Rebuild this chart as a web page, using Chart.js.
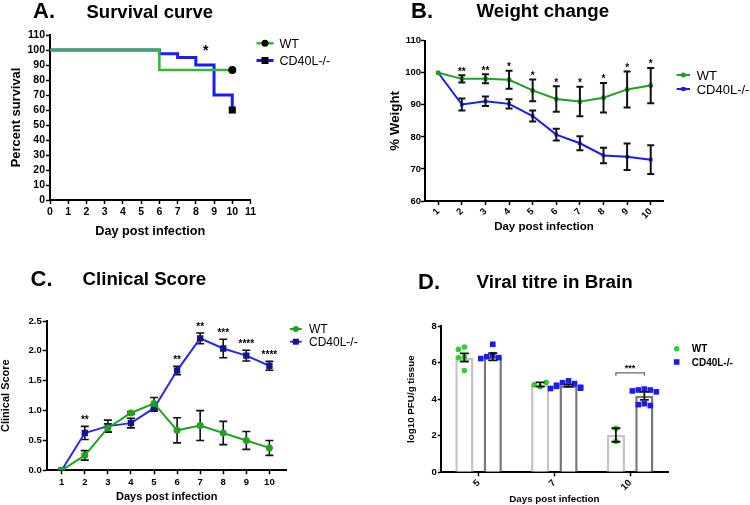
<!DOCTYPE html>
<html><head><meta charset="utf-8">
<script src="https://cdn.jsdelivr.net/npm/chart.js@4.4.1/dist/chart.umd.min.js"></script>
<style>
html,body{margin:0;padding:0;background:#fff;}
#wrap{position:relative;width:750px;height:505px;overflow:hidden;font-family:'Liberation Sans',Arial,sans-serif;}
canvas{position:absolute;}
.t{position:absolute;font-weight:bold;line-height:1;white-space:nowrap;color:#000;}
</style></head><body>
<div id="wrap">
<canvas id="cA" width="375" height="250" style="left:0;top:0"></canvas>
<canvas id="cB" width="375" height="250" style="left:375px;top:0"></canvas>
<canvas id="cC" width="375" height="255" style="left:0;top:250px"></canvas>
<canvas id="cD" width="375" height="255" style="left:375px;top:250px"></canvas>
</div>
<script>
// ---------------- DATA ----------------
const seriesNames = ['WT', 'CD40L-/-'];
const panelLetters = ['A.', 'B.', 'C.', 'D.'];
const panelTitles = ['Survival curve', 'Weight change', 'Clinical Score', 'Viral titre in Brain'];

// A. Survival curve (Kaplan-Meier steps)
const survDaysWT = [0, 6, 10];
const survWT = [100, 86.7, 86.7];
const survDaysKO = [0, 6, 7, 8, 9, 10];
const survKO = [100, 97.5, 95, 90, 70, 60];
const survTicksX = [0, 1, 2, 3, 4, 5, 6, 7, 8, 9, 10, 11];
const survTicksY = [0, 10, 20, 30, 40, 50, 60, 70, 80, 90, 100, 110];
const survSigDay = 8.55, survSigLevel = 101, survSigLabel = '*';

// B. Weight change
const weightDays = [1, 2, 3, 4, 5, 6, 7, 8, 9, 10];
const weightWT = [100, 98.1, 98.1, 97.8, 94.5, 91.8, 91.0, 92.2, 94.8, 96.0];
const weightWTerr = [0, 1.1, 1.4, 2.8, 3.4, 4.0, 4.6, 4.6, 5.6, 5.5];
const weightKO = [100, 90.1, 91.1, 90.3, 86.5, 80.7, 78.0, 74.2, 73.8, 72.9];
const weightKOerr = [0, 1.9, 1.5, 1.45, 1.7, 1.8, 2.2, 2.4, 4.1, 4.5];
const weightSig = ['', '**', '**', '*', '*', '*', '*', '*', '*', '*'];
const weightTicksY = [60, 70, 80, 90, 100, 110];

// C. Clinical score
const scoreDays = [1, 2, 3, 4, 5, 6, 7, 8, 9, 10];
const scoreWT = [0, 0.25, 0.71, 0.96, 1.12, 0.67, 0.75, 0.625, 0.50, 0.375];
const scoreWTerr = [0, 0.08, 0.07, 0.02, 0.1, 0.21, 0.25, 0.195, 0.15, 0.125];
const scoreKO = [0, 0.625, 0.74, 0.79, 1.04, 1.67, 2.21, 2.04, 1.92, 1.75];
const scoreKOerr = [0, 0.11, 0.1, 0.08, 0.05, 0.07, 0.09, 0.155, 0.09, 0.075];
const scoreSig = ['', '**', '', '', '', '**', '**', '***', '****', '****'];
const scoreTicksY = [0, 0.5, 1.0, 1.5, 2.0, 2.5];

// D. Viral titre in brain
const titreDays = ['5', '7', '10'];
const titreWTmean = [6.28, 4.8, 2.04];
const titreWTsem = [0.22, 0.12, 0.37];
const titreKOmean = [6.32, 4.75, 4.18];
const titreKOsem = [0.2, 0.06, 0.22];
const titreWTpts = [[6.85, 6.72, 6.3, 6.26, 5.57], [4.68, 4.79, 4.92], [2.4, 1.69]];
const titreKOpts = [[7.0, 6.42, 6.32, 6.27, 6.22], [5.0, 4.9, 4.85, 4.76, 4.7, 4.65, 4.6, 4.58], [4.55, 4.5, 4.5, 4.45, 4.4, 3.75, 3.7, 3.65]];
const titreTicksY = [0, 2, 4, 6, 8];
const titreSigGroup = 2, titreSigLevel = 5.44, titreSigLabel = '***';

// ---------------- STYLE / HELPERS ----------------
const FONT = "'Liberation Sans', Arial, Helvetica, sans-serif";
Chart.defaults.font.family = FONT;
Chart.defaults.color = '#000';
Chart.defaults.animation = false;
Chart.defaults.responsive = false;
Chart.defaults.maintainAspectRatio = false;
Chart.defaults.events = [];
Chart.defaults.plugins.legend.display = false;
Chart.defaults.plugins.tooltip.enabled = false;

const wrap = document.getElementById('wrap');
function addText(txt, left, baseline, size) {
  const d = document.createElement('div');
  d.className = 't';
  d.textContent = txt;
  d.style.fontSize = size + 'px';
  d.style.left = left + 'px';
  d.style.top = (baseline - 0.8465 * size) + 'px';
  wrap.appendChild(d);
}
addText(panelLetters[0], 33, 18.5, 22);
addText(panelTitles[0], 86.5, 18.3, 18.5);
addText(panelLetters[1], 411, 18.5, 22);
addText(panelTitles[1], 476.5, 17.8, 18.7);
addText(panelLetters[2], 30.5, 286.7, 22);
addText(panelTitles[2], 82.5, 286.2, 18.7);
addText(panelLetters[3], 418, 290, 22);
addText(panelTitles[3], 476.5, 288.5, 18.8);

function mkAxis(o) {
  const a = {
    type: o.type || 'linear',
    grid: { display: true, drawOnChartArea: false, drawTicks: true, tickLength: o.tickLen ?? 4,
            tickColor: '#000', tickWidth: 1.5, color: '#000', offset: false },
    border: { display: true, color: '#000', width: 2 },
    ticks: { font: { size: o.tickSize, weight: 'bold' }, color: '#000', padding: o.tickPad ?? 2,
             autoSkip: false, maxRotation: o.rot || 0, minRotation: o.rot || 0 },
    title: { display: true, text: o.title, color: '#000', font: { size: o.titleSize, weight: 'bold' },
             padding: o.horizontal ? { top: 0, bottom: o.titlePad } : { top: o.titlePad, bottom: 0 } },
    afterFit: o.horizontal ? (s => { s.height = o.size; }) : (s => { s.width = o.size; })
  };
  if (a.type === 'linear') {
    a.min = o.min; a.max = o.max;
    a.afterBuildTicks = s => { s.ticks = o.tickValues.map(v => ({ value: v })); };
    if (o.fmt) a.ticks.callback = o.fmt;
  }
  return a;
}

function drawMarker(ctx, shape, x, y, r, fill) {
  ctx.save();
  ctx.fillStyle = fill;
  ctx.beginPath();
  if (shape === 'rect') ctx.rect(x - r, y - r, 2 * r, 2 * r);
  else ctx.arc(x, y, r, 0, Math.PI * 2);
  ctx.fill();
  ctx.restore();
}

function drawErrorBars(chart, capHalf, lw) {
  const ctx = chart.ctx, ys = chart.scales.y;
  chart.data.datasets.forEach((ds, di) => {
    if (!ds.errors) return;
    const meta = chart.getDatasetMeta(di);
    meta.data.forEach((el, i) => {
      const e = ds.errors[i];
      if (!e) return;
      const d = ds.data[i];
      const v = typeof d === 'object' ? d.y : d;
      const x = el.x, y1 = ys.getPixelForValue(v + e), y2 = ys.getPixelForValue(v - e);
      ctx.save();
      ctx.strokeStyle = '#111';
      ctx.lineWidth = lw;
      ctx.beginPath();
      ctx.moveTo(x, y1); ctx.lineTo(x, y2);
      ctx.moveTo(x - capHalf, y1); ctx.lineTo(x + capHalf, y1);
      ctx.moveTo(x - capHalf, y2); ctx.lineTo(x + capHalf, y2);
      ctx.stroke();
      ctx.restore();
    });
  });
}

function drawStarText(ctx, text, x, glyphCenterY, size) {
  ctx.save();
  ctx.font = 'bold ' + size + 'px ' + FONT;
  ctx.fillStyle = '#000';
  ctx.textAlign = 'center';
  ctx.textBaseline = 'middle';
  ctx.fillText(text, x, glyphCenterY + 0.22 * size);
  ctx.restore();
}

function drawSigAbove(chart, dsIndex, labels, gapPx, size) {
  const ds = chart.data.datasets[dsIndex];
  const meta = chart.getDatasetMeta(dsIndex);
  const ys = chart.scales.y;
  labels.forEach((t, i) => {
    if (!t) return;
    const d = ds.data[i];
    const v = (typeof d === 'object' ? d.y : d) + (ds.errors ? ds.errors[i] : 0);
    drawStarText(chart.ctx, t, meta.data[i].x, ys.getPixelForValue(v) - gapPx, size);
  });
}

function drawLegend(ctx, items, x0, lineLen, textX, font) {
  items.forEach(it => {
    ctx.save();
    if (it.line) {
      ctx.strokeStyle = it.line;
      ctx.lineWidth = it.lw;
      ctx.beginPath();
      ctx.moveTo(x0, it.y); ctx.lineTo(x0 + lineLen, it.y);
      ctx.stroke();
    }
    drawMarker(ctx, it.shape, x0 + lineLen / 2, it.y, it.r, it.fill);
    ctx.font = font;
    ctx.fillStyle = '#000';
    ctx.textAlign = 'left';
    ctx.textBaseline = 'middle';
    ctx.fillText(it.label, textX, it.y + 1);
    ctx.restore();
  });
}

const toXY = (xs, ys) => xs.map((x, i) => ({ x: x, y: ys[i] }));

// ---------------- A ----------------
const GREEN_A = '#33b633', BLUE_A = '#1a1aff';
new Chart(document.getElementById('cA'), {
  type: 'line',
  data: {
    datasets: [
      { label: seriesNames[0], data: toXY(survDaysWT, survWT), stepped: 'before', borderColor: GREEN_A, borderWidth: 2.5,
        pointStyle: 'circle', pointBackgroundColor: '#000', pointBorderWidth: 0,
        pointRadius: c => c.dataIndex === survWT.length - 1 ? 4 : 0 },
      { label: seriesNames[1], data: toXY(survDaysKO, survKO), stepped: 'before', borderColor: BLUE_A, borderWidth: 3,
        pointStyle: 'rect', pointBackgroundColor: '#000', pointBorderWidth: 0,
        pointRadius: c => c.dataIndex === survKO.length - 1 ? 5 : 0 }
    ]
  },
  options: {
    layout: { padding: { left: 0, top: 35, right: 124.5, bottom: 0 } },
    clip: false,
    scales: {
      x: mkAxis({ horizontal: true, min: 0, max: 11, tickValues: survTicksX, size: 50, tickSize: 10.5, tickLen: 4, tickPad: 2,
                  title: 'Day post infection', titleSize: 12.7, titlePad: 11 }),
      y: mkAxis({ min: 0, max: 110, tickValues: survTicksY, size: 50, tickSize: 10.5, tickLen: 4, tickPad: 1,
                  title: 'Percent survival', titleSize: 12.9, titlePad: 8.5 })
    }
  },
  plugins: [{
    id: 'aExtra',
    afterDatasetsDraw(chart) {
      const xs = chart.scales.x, ys = chart.scales.y;
      drawStarText(chart.ctx, survSigLabel, xs.getPixelForValue(survSigDay), ys.getPixelForValue(survSigLevel), 14);
      drawLegend(chart.ctx, [
        { label: seriesNames[0], y: 43.3, line: GREEN_A, lw: 2.5, shape: 'circle', r: 3.5, fill: '#000' },
        { label: seriesNames[1], y: 60.5, line: BLUE_A, lw: 3, shape: 'rect', r: 3.5, fill: '#000' }
      ], 256.5, 17, 279.5, '12.5px ' + FONT);
    }
  }]
});

// ---------------- B ----------------
const GREEN_B = '#229f22', BLUE_B = '#1a1aff';
new Chart(document.getElementById('cB'), {
  type: 'line',
  data: {
    datasets: [
      { label: seriesNames[0], data: toXY(weightDays, weightWT), errors: weightWTerr, borderColor: GREEN_B, borderWidth: 2,
        pointStyle: 'circle', pointRadius: 2.5, pointBackgroundColor: GREEN_B, pointBorderWidth: 0 },
      { label: seriesNames[1], data: toXY(weightDays, weightKO), errors: weightKOerr, borderColor: BLUE_B, borderWidth: 2,
        pointStyle: 'rect', pointRadius: 2.5, pointBackgroundColor: BLUE_B, pointBorderWidth: 0 }
    ]
  },
  options: {
    layout: { padding: { left: 0, top: 40.7, right: 87, bottom: 0 } },
    scales: {
      x: mkAxis({ horizontal: true, min: 0.44, max: 10.52, tickValues: weightDays, size: 49, tickSize: 9.5, tickLen: 4, tickPad: 1,
                  rot: 45, title: 'Day post infection', titleSize: 11.5, titlePad: 16 }),
      y: mkAxis({ min: 60, max: 110, tickValues: weightTicksY, size: 50, tickSize: 9.5, tickLen: 4, tickPad: 0,
                  title: '% Weight', titleSize: 13.3, titlePad: 12 })
    }
  },
  plugins: [{
    id: 'bExtra',
    afterDatasetsDraw(chart) {
      drawErrorBars(chart, 3.5, 2);
      drawSigAbove(chart, 0, weightSig, 5.5, 10);
      drawLegend(chart.ctx, [
        { label: seriesNames[0], y: 75, line: GREEN_B, lw: 2, shape: 'circle', r: 2.5, fill: GREEN_B },
        { label: seriesNames[1], y: 89, line: BLUE_B, lw: 2, shape: 'rect', r: 2, fill: BLUE_B }
      ], 301.7, 13.3, 321.7, '13px ' + FONT);
    }
  }]
});

// ---------------- C ----------------
const GREEN_C = '#1fa31f', BLUE_C = '#2a2aee', NAVY_C = '#14148c';
new Chart(document.getElementById('cC'), {
  type: 'line',
  data: {
    datasets: [
      { label: seriesNames[0], data: toXY(scoreDays, scoreWT), errors: scoreWTerr, borderColor: GREEN_C, borderWidth: 2,
        pointStyle: 'circle', pointRadius: 3.5, pointBackgroundColor: GREEN_C, pointBorderWidth: 0 },
      { label: seriesNames[1], data: toXY(scoreDays, scoreKO), errors: scoreKOerr, borderColor: BLUE_C, borderWidth: 2,
        pointStyle: 'rect', pointRadius: 4.5, pointBackgroundColor: NAVY_C, pointBorderWidth: 0 }
    ]
  },
  options: {
    layout: { padding: { left: 0, top: 71, right: 88.3, bottom: 0 } },
    scales: {
      x: mkAxis({ horizontal: true, min: 0.35, max: 10.75, tickValues: scoreDays, size: 34.7, tickSize: 9.5, tickLen: 4, tickPad: 2,
                  title: 'Days post infection', titleSize: 11, titlePad: 1.5 }),
      y: mkAxis({ min: 0, max: 2.5, tickValues: scoreTicksY, size: 46.7, tickSize: 9.5, tickLen: 4, tickPad: 1,
                  title: 'Clinical Score', titleSize: 11, titlePad: -1, fmt: v => v.toFixed(1) })
    }
  },
  plugins: [{
    id: 'cExtra',
    beforeDatasetsDraw(chart) { drawErrorBars(chart, 4, 1.6); },
    afterDatasetsDraw(chart) {
      drawSigAbove(chart, 1, scoreSig, 8, 10);
      drawLegend(chart.ctx, [
        { label: seriesNames[0], y: 79, line: GREEN_C, lw: 2, shape: 'circle', r: 3, fill: GREEN_C },
        { label: seriesNames[1], y: 91.7, line: BLUE_C, lw: 2, shape: 'rect', r: 3, fill: NAVY_C }
      ], 290, 11.7, 309, '12px ' + FONT);
    }
  }]
});

// ---------------- D ----------------
const GREEN_D = '#2fd22f', BLUE_D = '#1a1aff';
new Chart(document.getElementById('cD'), {
  type: 'bar',
  data: {
    labels: titreDays,
    datasets: [
      { label: seriesNames[0], data: titreWTmean, errors: titreWTsem, points: titreWTpts, dotShape: 'circle', dotR: 2.8, dotColor: GREEN_D,
        backgroundColor: '#fff', borderColor: '#c4c4c4', borderWidth: 2.5 },
      { label: seriesNames[1], data: titreKOmean, errors: titreKOsem, points: titreKOpts, dotShape: 'rect', dotR: 2.8, dotColor: BLUE_D,
        backgroundColor: '#fff', borderColor: '#777', borderWidth: 2.5 }
    ]
  },
  options: {
    datasets: { bar: { categoryPercentage: 0.75, barPercentage: 0.64 } },
    layout: { padding: { left: 0, top: 76, right: 82, bottom: 0 } },
    scales: {
      x: mkAxis({ horizontal: true, type: 'category', size: 32.7, tickSize: 9.5, tickLen: 4, tickPad: 1, rot: 45,
                  title: 'Days post infection', titleSize: 9.8, titlePad: 0 }),
      y: mkAxis({ min: 0, max: 8, tickValues: titreTicksY, size: 65.7, tickSize: 9.5, tickLen: 3, tickPad: 1,
                  title: 'log10 PFU/g tissue', titleSize: 9.8, titlePad: 30.8 })
    }
  },
  plugins: [{
    id: 'dExtra',
    afterDatasetsDraw(chart) {
      const ctx = chart.ctx, ys = chart.scales.y;
      chart.data.datasets.forEach((ds, di) => {
        const meta = chart.getDatasetMeta(di);
        ds.points.forEach((grp, gi) => {
          const cx = meta.data[gi].x;
          const placed = [];
          grp.forEach(v => {
            const py = ys.getPixelForValue(v);
            const n = placed.filter(p => Math.abs(p - py) < 5).length;
            const off = n === 0 ? 0 : (n % 2 ? -1 : 1) * Math.ceil(n / 2) * 6;
            placed.push(py);
            drawMarker(ctx, ds.dotShape, cx + off, py, ds.dotR, ds.dotColor);
          });
        });
      });
      drawErrorBars(chart, 4.5, 1.8);
      const x0 = chart.getDatasetMeta(0).data[titreSigGroup].x;
      const x1 = chart.getDatasetMeta(1).data[titreSigGroup].x;
      const y = ys.getPixelForValue(titreSigLevel);
      ctx.save();
      ctx.strokeStyle = '#666';
      ctx.lineWidth = 1.3;
      ctx.beginPath();
      ctx.moveTo(x0, y + 3); ctx.lineTo(x0, y); ctx.lineTo(x1, y); ctx.lineTo(x1, y + 3);
      ctx.stroke();
      ctx.restore();
      drawStarText(ctx, titreSigLabel, (x0 + x1) / 2, y - 6, 9);
      drawLegend(ctx, [
        { label: seriesNames[0], y: 98.7, shape: 'circle', r: 2.8, fill: GREEN_D },
        { label: seriesNames[1], y: 112, shape: 'rect', r: 2.8, fill: BLUE_D }
      ], 301.7, 0, 316.7, 'bold 10px ' + FONT);
    }
  }]
});
</script>
</body></html>
